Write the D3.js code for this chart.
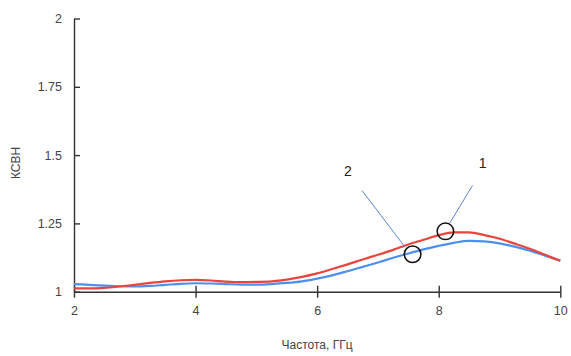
<!DOCTYPE html>
<html><head><meta charset="utf-8">
<script src="https://cdn.jsdelivr.net/npm/d3@7"></script>
<style>body{margin:0;background:#fff}svg{display:block}</style>
</head><body>
<script>
const freq = [2,2.25,2.5,2.75,3,3.25,3.5,3.75,4,4.25,4.5,4.75,5,5.25,5.5,5.75,6,6.25,6.5,6.75,7,7.25,7.5,7.75,8,8.25,8.5,8.75,9,9.25,9.5,9.75,10];
const vswr1 = [1.012,1.012,1.014,1.019,1.025,1.032,1.038,1.042,1.043,1.041,1.037,1.035,1.036,1.038,1.044,1.054,1.067,1.083,1.100,1.118,1.135,1.153,1.173,1.190,1.207,1.217,1.217,1.207,1.194,1.176,1.157,1.135,1.113];
const vswr2 = [1.028,1.025,1.022,1.020,1.019,1.021,1.025,1.029,1.031,1.030,1.028,1.026,1.026,1.028,1.032,1.038,1.048,1.060,1.075,1.091,1.107,1.124,1.140,1.155,1.168,1.179,1.186,1.184,1.177,1.165,1.150,1.132,1.113];
const xTicks = [2,4,6,8,10];
const yTicks = [1,1.25,1.5,1.75,2];
const xTitle = "Частота, ГГц";
const yTitle = "КСВН";
const labels = [{t:"1"},{t:"2"}];

const W=571,H=356;
const svg=d3.select("body").append("svg").attr("width",W).attr("height",H);
const x=d3.scaleLinear().domain([2,10]).range([74,560.3]);
const y=d3.scaleLinear().domain([1,2]).range([291.7,18.5]);
const font="Liberation Sans, Arial, sans-serif";

// axes
const ya=svg.append("g").attr("transform","translate(74,0)")
  .call(d3.axisLeft(y).tickValues(yTicks).tickSizeInner(6).tickSizeOuter(0).tickPadding(6).tickFormat(d=>String(d)));
ya.selectAll(".tick line").attr("x2",6);
const xa=svg.append("g").attr("transform","translate(0,291.7)")
  .call(d3.axisBottom(x).tickValues(xTicks).tickSizeInner(6).tickSizeOuter(0).tickPadding(8).tickFormat(d=>String(d)));
xa.selectAll(".tick line").attr("y1",-6);
[ya,xa].forEach(g=>{
  g.select(".domain").attr("stroke","#333").attr("stroke-width",1.4);
  g.selectAll(".tick line").attr("stroke","#333").attr("stroke-width",1.4);
  g.selectAll("text").attr("font-family",font).attr("font-size",12.5).attr("fill","#444");
});

// lines
const line=d3.line().x((d,i)=>x(freq[i])).y(d=>y(d)).curve(d3.curveMonotoneX);
svg.append("path").datum(vswr2).attr("d",line).attr("fill","none").attr("stroke","#4d8ff0").attr("stroke-width",2.2);
svg.append("path").datum(vswr1).attr("d",line).attr("fill","none").attr("stroke","#e8453c").attr("stroke-width",2.2);

// titles
svg.append("text").attr("x",317).attr("y",349).attr("text-anchor","middle")
  .attr("font-family",font).attr("font-size",12).attr("fill","#444").text(xTitle);
svg.append("text").attr("transform","translate(19.5,163) rotate(-90)").attr("text-anchor","middle")
  .attr("font-family",font).attr("font-size",12).attr("fill","#444").text(yTitle);

// annotations
const ann=[
  {t:labels[0].t, cx:8.11, cv:1.221, lx:482.7, ly:163, l1:[472.5,185.5], l2:[449.5,223.5]},
  {t:labels[1].t, cx:7.57, cv:1.137, lx:348, ly:171, l1:[362,190.5], l2:[405,247]}
];
ann.forEach(a=>{
  svg.append("line").attr("x1",a.l1[0]).attr("y1",a.l1[1]).attr("x2",a.l2[0]).attr("y2",a.l2[1])
    .attr("stroke","#5b86d6").attr("stroke-width",1);
  svg.append("circle").attr("cx",x(a.cx)).attr("cy",y(a.cv)).attr("r",8.3)
    .attr("fill","none").attr("stroke","#111").attr("stroke-width",1.5);
  svg.append("text").attr("x",a.lx).attr("y",a.ly+5).attr("text-anchor","middle")
    .attr("font-family","Liberation Sans, Arial, sans-serif").attr("font-size",14).attr("fill","#222").text(a.t);
});
</script>
</body></html>
